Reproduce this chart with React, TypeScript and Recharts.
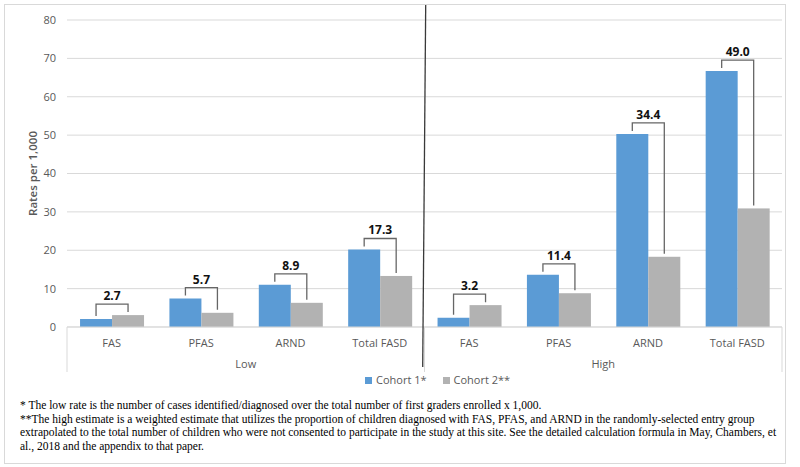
import React from 'react';
import { BarChart, Bar, XAxis, YAxis, CartesianGrid } from 'recharts';

// values (rates per 1,000)
const categories = ['FAS', 'PFAS', 'ARND', 'Total FASD', 'FAS', 'PFAS', 'ARND', 'Total FASD'];
const groups = ['Low', 'Low', 'Low', 'Low', 'High', 'High', 'High', 'High'];
const cohort1 = [2.1, 7.4, 11.0, 20.2, 2.4, 13.6, 50.3, 66.7];
const cohort2 = [3.1, 3.7, 6.3, 13.3, 5.7, 8.8, 18.3, 30.9];
const bracketLabels = ['2.7', '5.7', '8.9', '17.3', '3.2', '11.4', '34.4', '49.0'];
const yTicks = [0, 10, 20, 30, 40, 50, 60, 70, 80];

const data = categories.map((cat, i) => ({
  cat,
  group: groups[i],
  c1: cohort1[i],
  c2: cohort2[i],
  bracket: bracketLabels[i],
}));

const BLUE = '#5B9BD5';
const GRAY = '#B2B2B2';
const AXIS_TEXT = '#595959';
const FONT = '"Open Sans", "Liberation Sans", sans-serif';

// gray bar + the bracket joining it to the blue bar next to it
const BracketBar = (props: any) => {
  const { x, y, width, height, payload } = props;
  if (!payload || !height) return null;
  const k = height / payload.c2;
  const base = y + height;
  const blueTop = base - payload.c1 * k;
  const lx = x - width / 2;
  const rx = x + width / 2;
  const top = Math.min(blueTop, y) - 11;
  return (
    <g>
      <rect x={x} y={y} width={width} height={height} fill={GRAY} />
      <path
        d={`M${lx},${blueTop - 3}V${top}H${rx}V${y - 3}`}
        stroke="#666"
        strokeWidth={1.3}
        fill="none"
      />
      <text
        x={(lx + rx) / 2}
        y={top - 4}
        textAnchor="middle"
        fontFamily={FONT}
        fontWeight={700}
        fontSize={12}
        fill="#111"
      >
        {payload.bracket}
      </text>
    </g>
  );
};

const GroupTick = (props: any) => {
  const { x, y, payload, index } = props;
  const off = payload && payload.offset ? payload.offset : (782 - 67) / 4;
  const bx = x + off;
  return (
    <g>
      {index === 0 && <line x1={x - off} y1={y - 22} x2={x - off} y2={y + 23} stroke="#D9D9D9" />}
      <line x1={bx} y1={y - 22} x2={bx} y2={y + 23} stroke="#D9D9D9" />
      {index === 0 && (
        <line x1={bx + 1.2} y1={5} x2={bx - 1.8} y2={y + 18} stroke="#3a3a3a" strokeWidth={1.3} />
      )}
      <text x={x} y={y + 18.5} textAnchor="middle" fontFamily={FONT} fontSize={11} fill={AXIS_TEXT}>
        {payload.value}
      </text>
    </g>
  );
};

const YTitle = (props: any) => {
  const vb = props.viewBox || {};
  const cy = (vb.y || 0) + (vb.height || 0) / 2;
  return (
    <text
      x={37}
      y={cy}
      transform={`rotate(-90, 37, ${cy})`}
      textAnchor="middle"
      fontFamily={FONT}
      fontWeight={600}
      fontSize={11.5}
      fill={AXIS_TEXT}
    >
      Rates per 1,000
    </text>
  );
};

const legendItems = [
  { name: 'Cohort 1*', color: BLUE },
  { name: 'Cohort 2**', color: GRAY },
];

export default function App() {
  return (
    <div style={{ position: 'relative', width: 800, height: 467, background: '#fff', fontFamily: FONT }}>
      <style>{'body{margin:0}'}</style>
      <div
        style={{
          position: 'absolute',
          left: 4,
          top: 4,
          width: 780,
          height: 458,
          border: '1px solid #D9D9D9',
        }}
      />
      <div style={{ position: 'absolute', left: 0, top: 0 }}>
        <BarChart
          width={800}
          height={395}
          data={data}
          margin={{ top: 20, right: 18, bottom: 0, left: 0 }}
          barCategoryGap="14.6%"
          barGap={0}
        >
          <CartesianGrid vertical={false} stroke="#D9D9D9" />
          <XAxis
            dataKey="cat"
            height={22}
            tickLine={false}
            axisLine={{ stroke: '#D9D9D9' }}
            tickMargin={6}
            interval={0}
            tick={{ fill: AXIS_TEXT, fontSize: 11, fontFamily: FONT }}
          />
          <XAxis
            xAxisId="group"
            dataKey="group"
            allowDuplicatedCategory={false}
            height={46}
            axisLine={false}
            tickLine={false}
            tickSize={0}
            tickMargin={0}
            interval={0}
            tick={<GroupTick />}
          />
          <YAxis
            width={67}
            domain={[0, 80]}
            ticks={yTicks}
            axisLine={false}
            tickLine={false}
            tickMargin={5}
            tick={{ fill: AXIS_TEXT, fontSize: 11, fontFamily: FONT }}
            label={{ content: (p: any) => <YTitle {...p} /> }}
          />
          <Bar dataKey="c1" name="Cohort 1*" fill={BLUE} isAnimationActive={false} />
          <Bar dataKey="c2" name="Cohort 2**" fill={GRAY} isAnimationActive={false} shape={<BracketBar />} />
        </BarChart>
      </div>
      <div
        style={{
          position: 'absolute',
          top: 373,
          left: 365,
          display: 'flex',
          gap: 16,
          fontSize: 11,
          color: AXIS_TEXT,
          lineHeight: '14px',
        }}
      >
        {legendItems.map((it) => (
          <div key={it.name} style={{ display: 'flex', alignItems: 'center' }}>
            <span style={{ width: 7, height: 7, background: it.color, marginRight: 4, display: 'inline-block' }} />
            <span>{it.name}</span>
          </div>
        ))}
      </div>
      <div
        style={{
          position: 'absolute',
          top: 399,
          left: 20,
          fontFamily: '"Liberation Serif", "Times New Roman", serif',
          fontSize: 11.5,
          lineHeight: '13.5px',
          color: '#000',
          whiteSpace: 'nowrap',
        }}
      >
        <div>* The low rate is the number of cases identified/diagnosed over the total number of first graders enrolled x 1,000.</div>
        <div>**The high estimate is a weighted estimate that utilizes the proportion of children diagnosed with FAS, PFAS, and ARND in the randomly-selected entry group</div>
        <div>extrapolated to the total number of children who were not consented to participate in the study at this site. See the detailed calculation formula in May, Chambers, et</div>
        <div>al., 2018 and the appendix to that paper.</div>
      </div>
    </div>
  );
}
